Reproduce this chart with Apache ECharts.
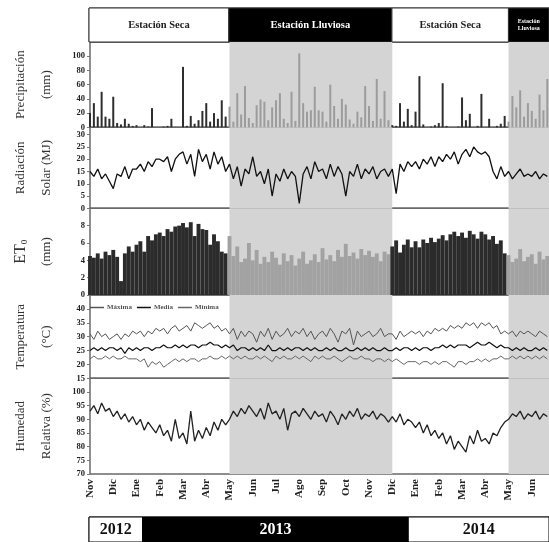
<!DOCTYPE html>
<html>
<head>
<meta charset="utf-8">
<script src="https://cdn.jsdelivr.net/npm/echarts@6/dist/echarts.min.js"></script>
<style>
  html, body { margin: 0; padding: 0; background: #fff; }
  #main { width: 549px; height: 542px; }
</style>
</head>
<body>
<div id="main"></div>
<script>
// x is in months from 1 Nov 2012, 6 samples per month
const monthLabels = ['Nov', 'Dic', 'Ene', 'Feb', 'Mar', 'Abr', 'May', 'Jun', 'Jul', 'Ago',
  'Sep', 'Oct', 'Nov', 'Dic', 'Ene', 'Feb', 'Mar', 'Abr', 'May', 'Jun']
const xEnd = 19.74
const seasons = [
  ['Estación Seca', 0, 6, 'dry'],
  ['Estación Lluviosa', 6, 13, 'rain'],
  ['Estación Seca', 13, 18, 'dry'],
  ['Estación\nLluviosa', 18, xEnd, 'rain']
]
const years = [['2012', 0, 2.3], ['2013', 2.3, 13.7], ['2014', 13.7, xEnd]]

const precip = [
  20, 34, 15, 50, 15, 12, 43, 6, 4, 12, 5, 2,
  3, 0, 3, 1, 27, 0, 0, 1, 2, 12, 0, 0,
  85, 2, 16, 5, 10, 23, 34, 8, 20, 12, 38, 15,
  29, 8, 48, 18, 58, 13, 6, 31, 39, 36, 10, 28,
  38, 48, 12, 6, 50, 9, 104, 34, 22, 24, 57, 24,
  22, 8, 60, 30, 12, 40, 32, 11, 5, 22, 14, 58,
  30, 9, 68, 12, 51, 10, 3, 2, 34, 8, 26, 3,
  22, 72, 4, 0, 1, 3, 6, 62, 2, 0, 0, 1,
  42, 10, 19, 0, 2, 47, 0, 12, 0, 2, 5, 16,
  8, 44, 28, 52, 15, 34, 23, 12, 46, 24, 68
]
const radiation = [
  15, 13, 16, 12, 14, 11, 8, 14, 13, 17, 12, 16,
  16, 18, 15, 19, 17, 20, 20, 19, 21, 15, 20, 22,
  23, 18, 22, 13, 24, 19, 22, 16, 23, 18, 21, 15,
  18, 12, 17, 9, 16, 14, 21, 13, 15, 10, 16, 5,
  14, 11, 16, 12, 15, 13, 2, 14, 17, 12, 19, 15,
  16, 12, 18, 13, 17, 14, 5, 15, 13, 18, 12, 16,
  14, 17, 12, 15, 16, 13, 16, 6, 18, 15, 19, 17,
  19, 16, 20, 18, 21, 17, 21, 19, 22, 20, 23, 18,
  22, 24, 21, 25, 23, 22, 23, 21, 15, 12, 17, 13,
  15, 12, 14, 16, 13, 14, 13, 15, 12, 14, 13
]
const et0 = [
  4.5, 4.3, 4.8, 4.2, 5.0, 4.6, 5.2, 4.4, 1.6, 4.8, 5.6, 5.0,
  5.8, 6.2, 5.0, 6.8, 6.3, 7.0, 7.2, 6.8, 7.6, 7.3, 7.9, 8.0,
  8.3, 7.8, 8.4, 6.8, 8.2, 7.6, 7.5, 5.8, 7.0, 6.2, 5.0, 4.8,
  6.8, 4.5, 5.6, 3.8, 4.2, 6.0, 4.0, 5.2, 3.6, 4.4, 3.8, 5.0,
  4.3, 3.5, 4.8, 3.9, 4.6, 3.4, 4.2, 5.0, 3.6, 4.0, 4.7, 3.8,
  5.4, 4.1, 4.6, 3.9, 5.2, 4.4, 5.9, 4.5, 4.9, 4.2, 5.3, 4.6,
  5.1, 4.4, 4.8, 3.9, 5.0, 4.7, 5.6, 6.3, 4.9, 5.8, 6.4, 5.5,
  6.2, 5.5, 6.4, 6.0, 6.6, 6.1, 6.5, 6.9, 6.3, 7.0, 7.3, 6.8,
  7.2, 6.6, 7.4, 7.0, 6.5, 7.3, 7.0, 6.4, 6.8, 5.9, 6.3, 4.8,
  4.6, 3.8, 4.2, 5.3, 3.9, 4.4, 4.7, 3.6, 5.0, 4.1, 4.5
]
const tMax = [
  31, 29, 32, 30, 31, 29, 30, 31, 29, 31, 30, 32,
  31, 32, 30, 32, 31, 33, 32, 33, 31, 33, 34, 32,
  33, 34, 32, 35, 34, 33, 34, 35, 33, 34, 32, 33,
  31, 33, 29, 32, 30, 32, 31, 28, 32, 30, 33, 29,
  32, 30, 31, 33, 30, 32, 31, 33, 30, 32, 29, 31,
  32, 30, 33, 31, 28, 32, 31, 33, 27, 32, 30, 31,
  32, 30, 31, 33, 30, 31, 31, 29, 32, 30, 31, 32,
  31, 32, 30, 32, 31, 33, 32, 33, 32, 34, 33, 34,
  33, 35, 34, 35, 33, 35, 34, 35, 33, 34, 31, 32,
  31, 32, 30, 32, 31, 32, 31, 30, 32, 31, 30
]
const tMean = [
  25, 26, 25, 26, 25, 26, 26, 25, 26, 24, 26, 25,
  26, 25, 26, 26, 25, 26, 26, 27, 26, 26, 27, 26,
  27, 26, 27, 27, 26, 27, 27, 28, 27, 27, 26, 27,
  26, 27, 25, 26, 26, 25, 26, 25, 26, 25, 27, 25,
  25, 26, 25, 26, 25, 26, 26, 25, 26, 25, 26, 25,
  25, 26, 25, 26, 25, 25, 26, 25, 25, 26, 25, 26,
  25, 26, 25, 25, 26, 25, 25, 26, 25, 26, 26, 25,
  26, 25, 26, 26, 25, 26, 26, 27, 26, 27, 26, 27,
  27, 27, 26, 27, 28, 27, 27, 28, 27, 26, 27, 26,
  26, 25, 26, 25, 26, 25, 25, 26, 25, 26, 25
]
const tMin = [
  22, 23, 22, 22, 23, 22, 23, 22, 22, 23, 22, 22,
  22, 21, 22, 19, 21, 20, 21, 19, 20, 21, 22, 21,
  22, 21, 22, 22, 21, 22, 22, 23, 22, 22, 23, 22,
  23, 22, 23, 22, 23, 22, 22, 23, 22, 23, 22, 21,
  23, 22, 23, 22, 22, 23, 22, 23, 22, 21, 23, 22,
  23, 22, 22, 23, 22, 21, 22, 23, 22, 22, 23, 22,
  22, 21, 22, 22, 21, 22, 21, 22, 21, 20, 21, 21,
  21, 20, 21, 21, 20, 21, 20, 21, 21, 20, 19, 21,
  21, 20, 21, 21, 22, 21, 22, 21, 22, 22, 23, 22,
  22, 23, 22, 23, 22, 23, 22, 23, 22, 23, 22
]
const humidity = [
  93, 95, 92, 96, 93, 94, 91, 93, 90, 92, 89, 91,
  88, 90, 86, 89, 87, 85, 88, 84, 86, 82, 90, 83,
  85, 81, 93, 82, 86, 83, 87, 84, 89, 86, 90, 88,
  90, 93, 91, 94, 92, 95, 93, 91, 94, 90, 96, 92,
  93, 90, 94, 86, 92, 93, 91, 94, 92, 90, 93, 91,
  92, 89, 93, 91, 88, 92, 90, 93, 91, 94, 90, 92,
  91, 93, 90, 92, 91, 89, 91, 89, 92, 88, 90, 89,
  87, 89, 85, 88, 84, 86, 83, 85, 81, 84, 79, 82,
  80, 78, 84, 81, 86, 82, 83, 81, 85, 84, 87, 89,
  90, 92, 91, 93, 90, 92, 91, 93, 90, 92, 91
]

const font = 'Liberation Serif'
const shade = '#d4d4d4'
const rainRanges = seasons.filter(s => s[3] === 'rain').map(s => [s[1], s[2]])
const isRain = x => rainRanges.some(r => x >= r[0] && x < r[1])
const pts = arr => arr.map((v, i) => [i / 6, v])

const rainArea = {
  silent: true,
  itemStyle: { color: shade },
  data: rainRanges.map(r => [{ xAxis: r[0] }, { xAxis: r[1] }])
}

const tops = [
  [8, 34], [42, 85.3], [127.3, 81], [208.3, 86.7], [295, 83.3], [378.3, 95.7], [517, 30]
]
const grid = tops.map((t, i) => ({
  left: 89, right: 0, top: t[0], height: t[1], show: true,
  borderColor: i === 0 || i === 6 ? '#333' : '#6a6a6a',
  borderWidth: i === 0 || i === 6 ? 1 : 1.5
}))

const xAxis = tops.map((t, i) => ({
  type: 'value', gridIndex: i, min: 0, max: xEnd, interval: 1,
  show: i === 5,
  axisLine: { show: false }, axisTick: { show: false }, splitLine: { show: false },
  axisLabel: {
    rotate: 90, margin: 5, fontFamily: font, fontWeight: 'bold', fontSize: 11, color: '#222',
    showMaxLabel: false,
    formatter: v => Number.isInteger(v) && v < monthLabels.length ? monthLabels[v] : ''
  }
}))

const yBase = (gridIndex, min, max, interval, name) => ({
  type: 'value', gridIndex, min, max, interval, name,
  nameLocation: 'middle', nameGap: 30, nameRotate: 90,
  nameTextStyle: { fontFamily: font, fontSize: 13, color: '#333', lineHeight: 26 },
  axisLine: { show: false },
  axisTick: { show: true, length: 3, lineStyle: { color: '#777' } },
  splitLine: { show: false },
  axisLabel: {
    fontFamily: font, fontWeight: 'bold', fontSize: 8.5, color: '#222', margin: 5,
    showMaxLabel: false
  }
})

const yAxis = [
  { type: 'value', gridIndex: 0, min: 0, max: 1, show: false },
  yBase(1, 0, 120, 20, 'Precipitación\n(mm)'),
  yBase(2, 0, 33, 5, 'Radiación\nSolar (MJ)'),
  yBase(3, 0, 10, 2, '{a|ET}{b|0}\n{c|(mm)}'),
  yBase(4, 15, 45, 5, 'Temperatura\n(°C)'),
  yBase(5, 70, 105, 5, 'Humedad\nRelativa (%)'),
  { type: 'value', gridIndex: 6, min: 0, max: 1, show: false }
]
yAxis[3].nameTextStyle = Object.assign({}, yAxis[3].nameTextStyle, {
  rich: {
    a: { fontFamily: font, fontSize: 16, color: '#333', lineHeight: 26 },
    b: { fontFamily: font, fontSize: 9, color: '#333', lineHeight: 26, padding: [8, 0, 0, 0] },
    c: { fontFamily: font, fontSize: 13, color: '#333', lineHeight: 26 }
  }
})

const barColor = (rain, dry) => p => (isRain(p.value[0]) ? rain : dry)

const option = {
  animation: false,
  backgroundColor: '#fff',
  grid, xAxis, yAxis,
  legend: {
    data: ['Máxima', 'Media', 'Mínima'],
    left: 90, top: 304, padding: 0, icon: 'rect',
    itemWidth: 14, itemHeight: 1.5, itemGap: 5,
    textStyle: { fontFamily: font, fontSize: 7, fontWeight: 'bold', color: '#555', padding: [0, 0, 0, -2] }
  },
  series: [
    {
      type: 'line', xAxisIndex: 0, yAxisIndex: 0, data: [],
      markArea: {
        silent: true,
        data: seasons.map(s => [{
          xAxis: s[1], name: s[0],
          itemStyle: { color: s[3] === 'dry' ? '#fff' : '#000', borderColor: '#333', borderWidth: 1 },
          label: {
            position: 'inside', fontFamily: font, fontWeight: 'bold',
            fontSize: s[2] - s[1] < 3 ? 6 : 10.5, lineHeight: s[2] - s[1] < 3 ? 7 : 12,
            color: s[3] === 'dry' ? '#222' : '#fff'
          }
        }, { xAxis: s[2] }])
      }
    },
    {
      name: 'Precipitación', type: 'bar', xAxisIndex: 1, yAxisIndex: 1,
      data: pts(precip), barWidth: 2,
      itemStyle: { color: barColor('#9c9c9c', '#2e2e2e') },
      markArea: rainArea
    },
    {
      name: 'Radiación', type: 'line', xAxisIndex: 2, yAxisIndex: 2,
      data: pts(radiation), symbol: 'none',
      lineStyle: { color: '#111', width: 1.3 },
      markArea: rainArea
    },
    {
      name: 'ET0', type: 'bar', xAxisIndex: 3, yAxisIndex: 3,
      data: pts(et0), barWidth: 3.9,
      itemStyle: { color: barColor('#a2a2a2', '#2b2b2b') },
      markArea: rainArea
    },
    {
      name: 'Máxima', type: 'line', xAxisIndex: 4, yAxisIndex: 4,
      data: pts(tMax), symbol: 'none', color: '#555',
      lineStyle: { color: '#555', width: 1 },
      markArea: rainArea
    },
    {
      name: 'Media', type: 'line', xAxisIndex: 4, yAxisIndex: 4,
      data: pts(tMean), symbol: 'none', color: '#111',
      lineStyle: { color: '#111', width: 1.2 }
    },
    {
      name: 'Mínima', type: 'line', xAxisIndex: 4, yAxisIndex: 4,
      data: pts(tMin), symbol: 'none', color: '#666',
      lineStyle: { color: '#666', width: 1 }
    },
    {
      name: 'Humedad', type: 'line', xAxisIndex: 5, yAxisIndex: 5,
      data: pts(humidity), symbol: 'none',
      lineStyle: { color: '#222', width: 1.3 },
      markArea: rainArea
    },
    {
      type: 'line', xAxisIndex: 6, yAxisIndex: 6, data: [],
      markArea: {
        silent: true,
        data: years.map((y, i) => [{
          xAxis: y[1], name: y[0],
          itemStyle: { color: i === 1 ? '#000' : '#fff', borderColor: '#000', borderWidth: 1 },
          label: {
            position: 'inside', fontFamily: font, fontWeight: 'bold', fontSize: 16,
            color: i === 1 ? '#fff' : '#111'
          }
        }, { xAxis: y[2] }])
      }
    }
  ]
}

const chart = echarts.init(document.getElementById('main'))
chart.setOption(option)
</script>
</body>
</html>
